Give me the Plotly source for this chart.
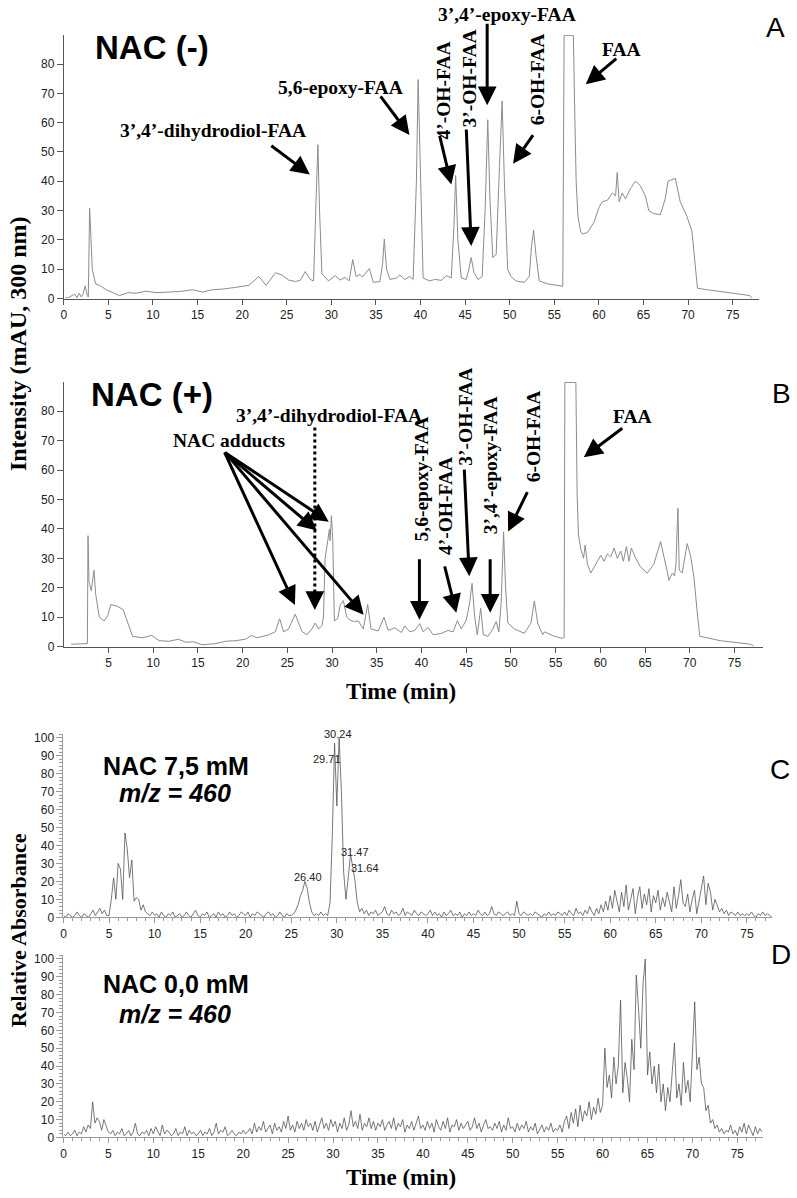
import plotly.graph_objects as go

W, H = 797, 1198

# ---------------- Panel A : NAC (-) UV chromatogram ----------------
A_t = [0.15, 0.5, 1.22, 1.48, 1.71, 1.97, 2.15, 2.41, 2.64, 2.75, 2.90, 3.05, 3.20, 3.57, 4.01, 4.76,
       5.50, 6.25, 7.18, 8.11, 9.22, 10.34, 11.83, 13.32, 14.43, 15.55, 16.67, 17.78, 19.27,
       20.76, 21.87, 22.69, 23.73, 24.48, 25.22, 25.97, 26.52, 27.08, 27.64, 28.01, 28.20,
       28.49, 28.68, 28.94, 29.68, 30.43, 30.98, 31.54, 31.99, 32.40, 32.77, 33.22, 33.48,
       33.78, 34.26, 34.71, 35.45, 35.75, 35.94, 36.19, 36.57, 37.31, 37.68, 38.24, 38.80,
       39.17, 39.54, 39.73, 39.99, 40.29, 41.03, 41.59, 42.34, 42.90, 43.45, 43.75, 43.94,
       44.19, 44.57, 45.12, 45.42, 45.68, 45.98, 46.43, 46.91, 47.24, 47.54, 47.77, 48.10,
       48.48, 48.85, 49.15, 49.40, 49.77, 50.15, 50.71, 51.63, 52.19, 52.45, 52.68, 52.94,
       53.31, 54.24, 55.36, 55.95, 56.10, 57.14, 57.30, 57.45, 57.65, 57.95, 58.14, 58.70,
       59.45, 60.00, 60.38, 60.94, 61.50, 61.87, 62.05, 62.27, 62.61, 62.98, 63.54, 64.10,
       64.65, 65.21, 65.59, 66.14, 66.89, 67.44, 67.74, 68.19, 68.56, 69.12, 69.87, 70.43,
       70.79, 71.05, 72.09, 73.58, 75.07, 76.93, 77.12]
A_y = [0.2, 0.3, 1.5, 0.3, 1.8, 0.5, 1.5, 4.3, 1.0, 0.5, 30.8, 18.5, 10.0, 5.0, 4.5, 3.0,
       2.0, 1.0, 2.0, 1.8, 2.5, 2.0, 2.2, 2.5, 3.0, 2.2, 3.0, 3.2, 3.8,
       4.5, 7.5, 4.5, 8.8, 8.0, 6.3, 5.8, 6.2, 9.2, 6.5, 6.0, 25.0,
       52.5, 30.0, 8.5, 6.0, 7.8, 6.3, 7.2, 6.0, 13.3, 7.5, 8.2, 7.3,
       8.5, 10.2, 5.5, 5.8, 12.0, 20.3, 10.0, 6.5, 7.0, 8.0, 6.5, 7.5,
       6.5, 40.0, 74.7, 40.0, 7.0, 6.0, 6.5, 6.2, 7.8, 7.0, 25.0, 42.0,
       20.0, 7.0, 6.5, 10.0, 14.0, 9.0, 6.5, 7.5, 30.0, 61.0, 35.0, 14.0,
       15.0, 45.0, 67.4, 40.0, 10.0, 7.5, 6.0, 5.5, 7.5, 18.0, 23.3, 15.0,
       6.0, 5.0, 4.6, 4.2, 89.8, 89.8, 62.0, 40.0, 28.0, 23.0, 22.0, 22.5,
       26.0, 31.0, 33.0, 33.5, 36.0, 35.0, 43.0, 33.0, 36.0, 34.0, 37.5, 40.0,
       38.5, 35.0, 30.0, 29.0, 28.6, 34.0, 40.0, 40.5, 41.0, 33.0, 28.0, 23.0,
       12.0, 3.5, 3.0, 2.3, 1.8, 1.0, 0.2]

# ---------------- Panel B : NAC (+) UV chromatogram ----------------
B_t = [0.82, 1.75, 2.64, 2.71, 2.82, 3.08, 3.38, 3.56, 3.97, 4.53, 4.90, 5.27, 6.01, 6.65,
       7.13, 7.69, 8.80, 9.84, 10.66, 11.77, 12.81, 13.63, 14.56, 15.48, 16.97, 18.08, 19.20,
       20.31, 20.98, 21.61, 22.91, 23.65, 24.14, 24.58, 25.14, 25.88, 26.62, 27.18, 27.74,
       28.11, 28.48, 28.85, 29.04, 29.22, 29.52, 29.71, 29.78, 29.93, 30.08, 30.26, 30.63,
       30.89, 31.27, 31.64, 32.01, 32.49, 32.94, 33.49, 33.98, 34.35, 35.17, 35.80, 36.28,
       37.02, 37.76, 38.14, 38.69, 39.25, 39.81, 40.18, 40.74, 41.30, 42.22, 42.97, 43.53,
       44.01, 44.45, 45.01, 45.39, 45.65, 45.95, 46.24, 46.62, 46.91, 47.43, 47.98, 48.35,
       48.65, 48.91, 49.18, 49.40, 49.66, 50.39, 51.50, 52.24, 52.62, 52.99, 53.55, 53.74,
       54.85, 55.77, 55.95, 56.03, 57.26, 57.40, 57.55, 57.82, 58.12, 58.30, 58.56, 58.93,
       59.48, 60.04, 60.41, 60.79, 61.16, 61.53, 61.90, 62.28, 62.57, 62.91, 63.20, 63.46,
       63.95, 64.50, 65.24, 65.98, 66.73, 67.10, 67.48, 67.67, 68.04, 68.30, 68.45, 68.67,
       68.82, 69.15, 69.71, 70.08, 70.45, 70.82, 71.11, 71.93, 73.41, 74.90, 76.76, 77.13]
B_y = [0.8, 1.0, 1.0, 37.7, 22.0, 19.0, 26.0, 18.0, 10.0, 8.7, 10.5, 14.3, 13.7, 12.5,
       8.0, 3.5, 3.0, 3.8, 2.0, 1.8, 2.5, 1.5, 1.6, 0.6, 1.0, 1.8, 2.0,
       2.5, 3.8, 3.0, 4.0, 5.0, 9.5, 5.0, 6.0, 11.0, 5.2, 4.0, 6.0,
       8.0, 6.0, 7.0, 10.0, 30.0, 36.0, 40.0, 36.0, 44.5, 36.0, 8.7, 9.5,
       14.0, 15.6, 10.0, 9.0, 8.5, 8.7, 6.0, 14.3, 6.0, 5.3, 10.0, 5.5,
       6.4, 4.8, 7.0, 5.0, 5.5, 7.8, 5.0, 6.5, 4.0, 4.5, 5.5, 5.0,
       8.8, 6.0, 9.0, 15.0, 21.5, 10.0, 4.0, 13.0, 4.0, 3.5, 6.0, 8.5,
       5.0, 15.0, 39.0, 20.0, 8.0, 6.0, 4.5, 8.0, 15.5, 8.0, 4.0, 5.0,
       3.5, 2.8, 3.0, 89.8, 89.8, 52.0, 38.0, 33.0, 30.0, 34.5, 28.0, 25.0,
       28.0, 31.0, 29.0, 31.5, 30.5, 33.5, 30.0, 32.5, 29.0, 34.0, 29.0, 33.5,
       30.0, 27.0, 25.0, 28.0, 35.7, 31.0, 25.5, 22.5, 25.0, 24.0, 28.0, 47.0,
       26.0, 25.0, 35.0, 31.0, 24.0, 12.0, 3.5, 3.0, 2.0, 1.5, 0.8, 0.3]

# ---------------- Panel C : NAC 7,5 mM, m/z = 460 (0.25 min sampling) ----------------
C_step = 0.25
C_y = [1, 0, 2, 1, 0, 1, 3, 1, 0, 2, 1, 0, 2, 4, 1, 3, 5, 2, 4, 1,
       1, 10, 22, 10, 30, 27, 10, 47, 38, 22, 32, 9, 11, 10, 4, 7, 3, 2, 1, 3,
       1, 2, 0, 3, 1, 0, 2, 1, 3, 0, 1, 2, 0, 1, 3, 1, 0, 2, 4, 1,
       0, 2, 1, 3, 0, 1, 2, 0, 3, 1, 2, 0, 1, 3, 1, 2, 0, 1, 3, 2,
       1, 3, 0, 2, 1, 3, 2, 1, 0, 2, 3, 1, 2, 0, 1, 3, 1, 0, 2, 1,
       1, 2, 4, 7, 12, 15, 20, 16, 8, 3, 1, 2, 1, 3, 1, 2, 1, 8, 45, 97,
       62, 100, 70, 25, 10, 22, 35, 28, 20, 8, 3, 5, 2, 4, 1, 3, 2, 4, 1, 2,
       3, 6, 2, 1, 4, 2, 3, 1, 2, 5, 1, 3, 2, 1, 4, 2, 1, 3, 2, 1,
       2, 4, 1, 3, 1, 2, 0, 3, 1, 2, 4, 1, 2, 1, 3, 0, 2, 1, 3, 1,
       2, 1, 4, 2, 1, 3, 1, 2, 6, 2, 1, 3, 2, 1, 2, 3, 1, 2, 1, 9,
       2, 1, 3, 2, 1, 2, 1, 3, 2, 1, 0, 2, 1, 3, 1, 2, 1, 3, 2, 1,
       3, 1, 4, 2, 1, 5, 2, 3, 1, 4, 2, 6, 3, 1, 5, 2, 7, 3, 9, 4,
       12, 5, 15, 8, 3, 14, 6, 18, 4, 10, 16, 2, 11, 17, 5, 13, 7, 16, 3, 12,
       8, 15, 4, 11, 6, 14, 9, 3, 17, 5, 12, 21, 8, 6, 13, 3, 10, 15, 2, 9,
       18, 23, 7, 19, 14, 4, 10, 6, 3, 5, 2, 4, 1, 3, 2, 1, 3, 1, 2, 1,
       2, 1, 3, 1, 0, 2, 1, 3, 1, 2, 1, 0]
C_t = [round(i * C_step, 2) for i in range(len(C_y))]
C_peak_labels = ["30.24", "29.71", "31.47", "31.64", "26.40"]

# ---------------- Panel D : NAC 0,0 mM, m/z = 460 (0.25 min sampling) ----------------
D_step = 0.25
D_y = [2, 1, 3, 1, 2, 4, 1, 3, 2, 6, 3, 7, 5, 20, 8, 11, 9, 4, 10, 6,
       3, 2, 4, 1, 3, 2, 5, 1, 2, 4, 1, 3, 8, 2, 1, 3, 2, 4, 1, 5,
       2, 6, 3, 1, 7, 2, 4, 3, 1, 2, 5, 1, 3, 2, 6, 1, 4, 2, 3, 1,
       2, 4, 1, 3, 2, 5, 1, 3, 8, 2, 4, 3, 6, 1, 2, 4, 2, 1, 3, 2,
       4, 2, 3, 5, 2, 8, 3, 6, 4, 9, 3, 5, 7, 2, 8, 4, 6, 3, 9, 5,
       12, 4, 7, 3, 9, 5, 8, 4, 10, 6, 8, 4, 9, 3, 7, 11, 5, 8, 4, 10,
       6, 9, 3, 8, 5, 11, 4, 7, 15, 6, 9, 5, 13, 4, 8, 6, 11, 5, 9, 4,
       8, 6, 10, 4, 7, 9, 5, 11, 4, 8, 6, 10, 3, 7, 5, 9, 4, 8, 12, 5,
       7, 4, 9, 5, 8, 3, 10, 6, 4, 9, 5, 11, 3, 7, 6, 10, 4, 8, 5, 7,
       9, 4, 6, 11, 5, 8, 3, 7, 10, 5, 6, 4, 8, 5, 9, 3, 7, 4, 11, 5,
       6, 3, 8, 4, 7, 5, 9, 3, 6, 4, 8, 2, 5, 7, 3, 6, 4, 8, 3, 5,
       4, 7, 3, 9, 12, 5, 14, 8, 16, 6, 18, 9, 15, 12, 20, 10, 17, 13, 22, 14,
       18, 50, 28, 35, 22, 45, 30, 40, 77, 25, 42, 33, 20, 55, 38, 91, 72, 50, 86, 100,
       35, 48, 30, 40, 25, 41, 20, 30, 15, 28, 20, 35, 53, 22, 30, 18, 42, 25, 32, 20,
       45, 76, 38, 45, 30, 28, 15, 18, 8, 10, 5, 7, 3, 5, 2, 4, 3, 7, 2, 4,
       1, 6, 3, 8, 2, 7, 4, 1, 6, 2, 5, 3]
D_t = [round(i * D_step, 2) for i in range(len(D_y))]

# ---------------- tick labels ----------------
A_xticks = list(range(0, 80, 5))
B_xticks = list(range(5, 80, 5))
AB_yticks = list(range(0, 90, 10))
CD_xticks = list(range(0, 80, 5))
CD_yticks = list(range(0, 110, 10))

SERIF = "Liberation Serif, Times New Roman, serif"
SANS = "Liberation Sans, Arial, sans-serif"


def P(px, py):
    return px / W, 1 - py / H


fig = go.Figure()
fig.add_trace(go.Scatter(x=A_t, y=A_y, mode="lines", line=dict(color="#8c8c8c", width=1),
                         xaxis="x", yaxis="y", hoverinfo="skip"))
fig.add_trace(go.Scatter(x=B_t, y=B_y, mode="lines", line=dict(color="#8c8c8c", width=1),
                         xaxis="x2", yaxis="y2", hoverinfo="skip"))
fig.add_trace(go.Scatter(x=C_t, y=C_y, mode="lines", line=dict(color="#555555", width=0.8),
                         xaxis="x3", yaxis="y3", hoverinfo="skip"))
fig.add_trace(go.Scatter(x=D_t, y=D_y, mode="lines", line=dict(color="#555555", width=0.8),
                         xaxis="x4", yaxis="y4", hoverinfo="skip"))

tickfont = dict(family=SANS, size=12, color="#222")


def xaxis(px0, px1, rng, ticks, anchor, lc, minor=None):
    d = dict(domain=[px0 / W, px1 / W], range=rng, anchor=anchor, tickmode="array",
             tickvals=ticks, ticks="outside", ticklen=5, tickcolor=lc, showline=True,
             linecolor=lc, linewidth=1, showgrid=False, zeroline=False, tickfont=tickfont)
    if minor:
        d["minor"] = minor
    return d


def yaxis(py_top, py_bot, rng, ticks, anchor, lc, minor=None):
    d = dict(domain=[1 - py_bot / H, 1 - py_top / H], range=rng, anchor=anchor, tickmode="array",
             tickvals=ticks, ticks="outside", ticklen=6, tickcolor=lc, showline=True,
             linecolor=lc, linewidth=1, showgrid=False, zeroline=False, tickfont=tickfont)
    if minor:
        d["minor"] = minor
    return d


dark = "#555555"
light = "#9a9a9a"
fig.update_layout(
    width=W, height=H, margin=dict(l=0, r=0, t=0, b=0),
    paper_bgcolor="white", plot_bgcolor="white", showlegend=False,
    xaxis=xaxis(61, 759.3, [0, 78], A_xticks, "y", dark),
    yaxis=yaxis(32, 298, [0, 90], AB_yticks, "x", dark),
    xaxis2=xaxis(61, 763, [0, 78.2], B_xticks, "y2", dark),
    yaxis2=yaxis(382, 649, [0, 90], AB_yticks, "x2", dark),
    xaxis3=xaxis(60.7, 772.3, [0, 77.8], CD_xticks, "y3", light,
                 minor=dict(dtick=1, ticklen=3, ticks="outside", tickcolor=light)),
    yaxis3=yaxis(737.4, 922, [0, 102], CD_yticks, "x3", light,
                 minor=dict(dtick=2, ticklen=3, ticks="outside", tickcolor=light)),
    xaxis4=xaxis(60.7, 763.3, [0, 77.9], CD_xticks, "y4", light,
                 minor=dict(dtick=1, ticklen=3, ticks="outside", tickcolor=light)),
    yaxis4=yaxis(960.4, 1144, [0, 102], CD_yticks, "x4", light,
                 minor=dict(dtick=2, ticklen=3, ticks="outside", tickcolor=light)),
)

ann = []


def text(px, py, s, size, family=SERIF, angle=0, color="black"):
    x, y = P(px, py)
    ann.append(dict(x=x, y=y, xref="paper", yref="paper", text=s, showarrow=False,
                    textangle=angle, xanchor="center", yanchor="middle",
                    font=dict(family=family, size=size, color=color)))


def arrow(head_px, head_py, tail_px, tail_py, width=3):
    x, y = P(head_px, head_py)
    ann.append(dict(x=x, y=y, xref="paper", yref="paper", text="", showarrow=True,
                    ax=tail_px - head_px, ay=tail_py - head_py, axref="pixel", ayref="pixel",
                    arrowhead=2, arrowsize=1.25, arrowwidth=width, arrowcolor="black", standoff=0))


LBL = 19.5
# ---- Panel A annotations
text(150, 45, "<b>NAC (-)</b>", 33, SANS)
text(211, 129, "<b>3’,4’-dihydrodiol-FAA</b>", LBL)
arrow(308, 173, 268, 143)
text(339, 85, "<b>5,6-epoxy-FAA</b>", LBL)
arrow(408, 133, 378, 93)
text(442, 88, "<b>4’-OH-FAA</b>", LBL, angle=-90)
arrow(450, 183, 438, 133)
text(468, 76, "<b>3’-OH-FAA</b>", LBL, angle=-90)
arrow(470, 245, 465, 127)
text(506, 12, "<b>3’,4’-epoxy-FAA</b>", LBL)
arrow(486, 103, 486, 20)
text(536, 77, "<b>6-OH-FAA</b>", LBL, angle=-90)
arrow(512, 162, 533, 132)
text(621, 47, "<b>FAA</b>", LBL)
arrow(585, 82, 617, 55)
text(775, 25, "A", 28, SANS)

# ---- Panel B annotations
text(150, 395, "<b>NAC (+)</b>", 33, SANS)
text(327, 416, "<b>3’,4’-dihydrodiol-FAA</b>", LBL)
text(227, 441, "<b>NAC adducts</b>", LBL)
arrow(313, 612, 313, 600)
for hx, hy in [(293, 607), (315, 532), (327, 523), (362, 617)]:
    arrow(hx, hy, 222, 453)
text(421, 480, "<b>5,6-epoxy-FAA</b>", LBL, angle=-90)
arrow(418, 622, 418, 560)
text(444, 507, "<b>4’-OH-FAA</b>", LBL, angle=-90)
arrow(455, 615, 443, 567)
text(464, 417, "<b>3’-OH-FAA</b>", LBL, angle=-90)
arrow(468, 578, 463, 470)
text(489, 466, "<b>3’,4’-epoxy-FAA</b>", LBL, angle=-90)
arrow(489, 615, 489, 560)
text(532, 437, "<b>6-OH-FAA</b>", LBL, angle=-90)
arrow(507, 533, 527, 492)
text(632, 417, "<b>FAA</b>", LBL)
arrow(583, 458, 623, 428)
text(781, 394, "B", 28, SANS)
text(400, 694, "<b>Time (min)</b>", 23)
text(15, 343, "<b>Intensity (mAU, 300 nm)</b>", 24, angle=-90)

# ---- Panel C annotations
text(174, 769, "<b>NAC 7,5 mM</b>", 25, SANS)
text(173, 797, "<b><i>m/z = 460</i></b>", 25, SANS)
for lbl, (px, py) in zip(C_peak_labels, [(336, 737), (325, 762), (353, 856), (363, 872), (306, 881)]):
    text(px, py, lbl, 11, SANS, color="#222")
text(780, 773, "C", 28, SANS)
text(15, 935, "<b>Relative Absorbance</b>", 22, angle=-90)

# ---- Panel D annotations
text(174, 989, "<b>NAC 0,0 mM</b>", 25, SANS)
text(173, 1020, "<b><i>m/z = 460</i></b>", 25, SANS)
text(781, 960, "D", 28, SANS)
text(400, 1184, "<b>Time (min)</b>", 23)

fig.update_layout(annotations=ann)

# dotted arrow shaft (3',4'-dihydrodiol-FAA in panel B)
x0, y0 = P(313, 428)
x1, y1 = P(313, 602)
fig.add_shape(type="line", xref="paper", yref="paper", x0=x0, y0=y0, x1=x1, y1=y1,
              line=dict(color="black", width=3, dash="dot"))

fig.write_html("out.html", config={"displayModeBar": False},
               post_script="document.body.style.margin='0';document.body.style.overflow='hidden';")
